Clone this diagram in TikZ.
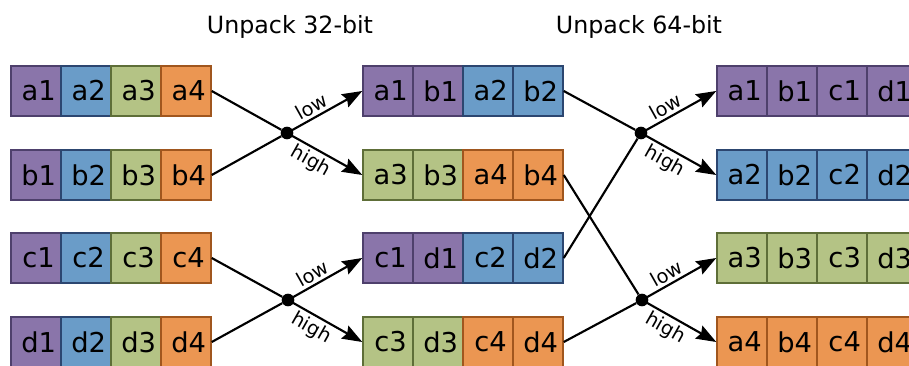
\documentclass[tikz,border=0pt]{standalone}
\usepackage{fontspec}
\setmainfont{DejaVu Sans}
\usetikzlibrary{arrows.meta}
\definecolor{fP}{RGB}{138,117,170}
\definecolor{dP}{RGB}{78,64,108}
\definecolor{fB}{RGB}{106,156,200}
\definecolor{dB}{RGB}{44,70,112}
\definecolor{fG}{RGB}{180,195,133}
\definecolor{dG}{RGB}{94,110,56}
\definecolor{fO}{RGB}{235,150,82}
\definecolor{dO}{RGB}{160,86,30}
\newcommand{\cl}[1]{\hspace*{4pt}#1}
\tikzset{
  cell/.style={rectangle,minimum width=37.5pt,minimum height=37.5pt,inner sep=0pt,line width=1.1pt,font=\fontsize{20.5}{22}\selectfont},
  junction/.style={circle,fill=black,inner sep=0pt,minimum size=9.5pt},
  wire/.style={line width=1.6pt},
  arr/.style={line width=1.6pt,-{Stealth[length=15pt,width=11pt,inset=2pt]}},
  lbl/.style={font=\fontsize{14.5}{16}\selectfont,inner sep=2pt},
  title/.style={font=\fontsize{17.8}{20}\selectfont}
}
\begin{document}
\begin{tikzpicture}[x=0.75pt,y=-0.75pt]
\useasboundingbox (0,0) rectangle (909,366);
% titles
\node[title] (T1) at (290,27) {Unpack 32-bit};
\node[title] (T2) at (639,27) {Unpack 64-bit};
% left column
\foreach \lab/\c [count=\i] in {a1/P,a2/B,a3/G,a4/O}
  \node[cell,fill=f\c,draw=d\c] (L1c\i) at ({36+50*(\i-1)},91) {\cl{\lab}};
\foreach \lab/\c [count=\i] in {b1/P,b2/B,b3/G,b4/O}
  \node[cell,fill=f\c,draw=d\c] (L2c\i) at ({36+50*(\i-1)},175) {\cl{\lab}};
\foreach \lab/\c [count=\i] in {c1/P,c2/B,c3/G,c4/O}
  \node[cell,fill=f\c,draw=d\c] (L3c\i) at ({36+50*(\i-1)},258) {\cl{\lab}};
\foreach \lab/\c [count=\i] in {d1/P,d2/B,d3/G,d4/O}
  \node[cell,fill=f\c,draw=d\c] (L4c\i) at ({36+50*(\i-1)},342) {\cl{\lab}};
% middle column
\foreach \lab/\c [count=\i] in {a1/P,b1/P,a2/B,b2/B}
  \node[cell,fill=f\c,draw=d\c] (M1c\i) at ({388+50*(\i-1)},91) {\cl{\lab}};
\foreach \lab/\c [count=\i] in {a3/G,b3/G,a4/O,b4/O}
  \node[cell,fill=f\c,draw=d\c] (M2c\i) at ({388+50*(\i-1)},175) {\cl{\lab}};
\foreach \lab/\c [count=\i] in {c1/P,d1/P,c2/B,d2/B}
  \node[cell,fill=f\c,draw=d\c] (M3c\i) at ({388+50*(\i-1)},258) {\cl{\lab}};
\foreach \lab/\c [count=\i] in {c3/G,d3/G,c4/O,d4/O}
  \node[cell,fill=f\c,draw=d\c] (M4c\i) at ({388+50*(\i-1)},342) {\cl{\lab}};
% right column
\foreach \lab [count=\i] in {a1,b1,c1,d1}
  \node[cell,fill=fP,draw=dP] (R1c\i) at ({742+50*(\i-1)},91) {\cl{\lab}};
\foreach \lab [count=\i] in {a2,b2,c2,d2}
  \node[cell,fill=fB,draw=dB] (R2c\i) at ({742+50*(\i-1)},175) {\cl{\lab}};
\foreach \lab [count=\i] in {a3,b3,c3,d3}
  \node[cell,fill=fG,draw=dG] (R3c\i) at ({742+50*(\i-1)},258) {\cl{\lab}};
\foreach \lab [count=\i] in {a4,b4,c4,d4}
  \node[cell,fill=fO,draw=dO] (R4c\i) at ({742+50*(\i-1)},342) {\cl{\lab}};
% junctions
\node[junction] (J1) at (287,133) {};
\node[junction] (J2) at (288,300) {};
\node[junction] (J3) at (641,133) {};
\node[junction] (J4) at (642,300) {};
% wires
\draw[wire] (L1c4.east) -- (J1);
\draw[wire] (L2c4.east) -- (J1);
\draw[wire] (L3c4.east) -- (J2);
\draw[wire] (L4c4.east) -- (J2);
\draw[wire] (M1c4.east) -- (J3);
\draw[wire] (M3c4.east) -- (J3);
\draw[wire] (M2c4.east) -- (J4);
\draw[wire] (M4c4.east) -- (J4);
% arrows
\draw[arr] (J1.center) -- node[lbl,above,sloped,pos=0.4] {low} (M1c1.west);
\draw[arr] (J1.center) -- node[lbl,below,sloped,pos=0.4] {high} (M2c1.west);
\draw[arr] (J2.center) -- node[lbl,above,sloped,pos=0.4] {low} (M3c1.west);
\draw[arr] (J2.center) -- node[lbl,below,sloped,pos=0.4] {high} (M4c1.west);
\draw[arr] (J3.center) -- node[lbl,above,sloped,pos=0.4] {low} (R1c1.west);
\draw[arr] (J3.center) -- node[lbl,below,sloped,pos=0.4] {high} (R2c1.west);
\draw[arr] (J4.center) -- node[lbl,above,sloped,pos=0.4] {low} (R3c1.west);
\draw[arr] (J4.center) -- node[lbl,below,sloped,pos=0.4] {high} (R4c1.west);
\end{tikzpicture}
\end{document}
